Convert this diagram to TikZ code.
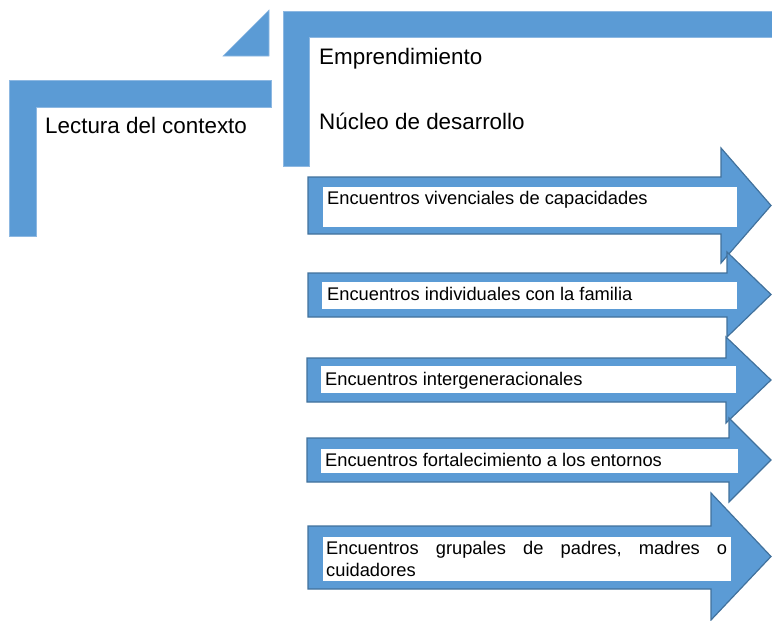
\documentclass[tikz,border=0pt]{standalone}
\usepackage{fontspec}
\setmainfont{Liberation Sans}
\definecolor{fillblue}{HTML}{5B9BD5}
\definecolor{edgeblue}{HTML}{41719C}
\definecolor{lightedge}{HTML}{8DB8E2}
\tikzset{
  frameshape/.style={fill=fillblue, draw=lightedge, line width=0.6pt},
  arrowshape/.style={fill=fillblue, draw=edgeblue, line width=1.2pt, line join=miter},
  whitebox/.style={fill=white, draw=none},
  bigtext/.style={anchor=base west, inner sep=0pt, font=\fontsize{22.4}{26}\selectfont},
  smalltext/.style={anchor=base west, inner sep=0pt, font=\fontsize{18.3}{22}\selectfont},
}
\begin{document}
\begin{tikzpicture}[x=1pt,y=-1pt]
\useasboundingbox (0,0) rectangle (772,621);
% frames
\draw[frameshape] (9,80) -- (271,80) -- (271,107) -- (36,107) -- (36,236) -- (9,236) -- cycle;
\draw[frameshape] (223,56) -- (269,10) -- (269,56) -- cycle;
\draw[frameshape] (283,11) -- (773,11) -- (773,37) -- (309,37) -- (309,166) -- (283,166) -- cycle;
\node[bigtext] (lectura) at (45,133) {Lectura del contexto};
\node[bigtext] (empr) at (319,64) {Emprendimiento};
\node[bigtext] (nucleo) at (319,129) {Núcleo de desarrollo};
% arrow 1
\draw[arrowshape] (308,177) -- (721,177) -- (721,148) -- (771,205.5) -- (721,263) -- (721,234) -- (308,234) -- cycle;
\fill[whitebox] (323,187) rectangle (737,227);
\node[smalltext] (a1) at (327,204) {Encuentros vivenciales de capacidades};
% arrow 2
\draw[arrowshape] (308,273) -- (727,273) -- (727,252) -- (771,294.5) -- (727,337) -- (727,317) -- (308,317) -- cycle;
\fill[whitebox] (322,282) rectangle (737,309);
\node[smalltext] (a2) at (327,300) {Encuentros individuales con la familia};
% arrow 3
\draw[arrowshape] (307,358) -- (726,358) -- (726,337) -- (771,380) -- (726,423) -- (726,402) -- (307,402) -- cycle;
\fill[whitebox] (321,366) rectangle (736,393);
\node[smalltext] (a3) at (325,385) {Encuentros intergeneracionales};
% arrow 4
\draw[arrowshape] (307,438) -- (729,438) -- (729,418) -- (771,460) -- (729,502) -- (729,482) -- (307,482) -- cycle;
\fill[whitebox] (321,449) rectangle (738,473);
\node[smalltext] (a4) at (325,466) {Encuentros fortalecimiento a los entornos};
% arrow 5
\draw[arrowshape] (308,526) -- (711,526) -- (711,493) -- (771,556.5) -- (711,620) -- (711,589) -- (308,589) -- cycle;
\fill[whitebox] (323,537) rectangle (731,581);
\node[smalltext] (a5a) at (326,554) {\hbox to 401pt{Encuentros\hfill grupales\hfill de\hfill padres,\hfill madres\hfill o}};
\node[smalltext] (a5b) at (326,576) {cuidadores};
\end{tikzpicture}
\end{document}
